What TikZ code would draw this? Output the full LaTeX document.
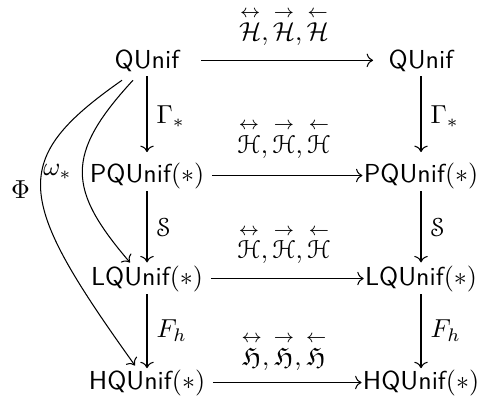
\documentclass[tikz,border=0pt]{standalone}
\usepackage{amsmath,amssymb}
\usepackage[mathscr]{eucal}
\usetikzlibrary{cd}
\newcommand{\hlr}[1]{\overset{\leftrightarrow}{#1}}
\newcommand{\hr}[1]{\overset{\rightarrow}{#1}}
\newcommand{\hl}[1]{\overset{\leftarrow}{#1}}
\begin{document}
\begin{tikzpicture}[x=0.3846pt,y=-0.3846pt,
  obj/.style={inner sep=0pt,outer sep=0pt,font=\sffamily,anchor=base},
  map/.style={->,>={cm to},line width=0.4pt},
  lab/.style={inner sep=0pt}]
\useasboundingbox (0,0) rectangle (479,395);
% objects
\node[obj] (A1) at (147,68) {QUnif};
\node[obj] (B1) at (421,68) {QUnif};
\node[obj] (A2) at (147,182) {PQUnif$(\ast)$};
\node[obj] (B2) at (421,182) {PQUnif$(\ast)$};
\node[obj] (A3) at (147,285) {LQUnif$(\ast)$};
\node[obj] (B3) at (421,285) {LQUnif$(\ast)$};
\node[obj] (A4) at (147,389) {HQUnif$(\ast)$};
\node[obj] (B4) at (421,389) {HQUnif$(\ast)$};
% horizontal maps
\draw[map,shorten <=8.5pt,shorten >=6pt] (A1) -- (B1)
  node[midway,above=5.5pt,lab] {$\hlr{\mathcal{H}},\hr{\mathcal{H}},\hl{\mathcal{H}}$};
\draw[map,shorten <=3pt,shorten >=0.5pt] (A2) -- (B2)
  node[midway,above=6.5pt,lab] {$\hlr{\mathscr{H}},\hr{\mathscr{H}},\hl{\mathscr{H}}$};
\draw[map,shorten <=3pt,shorten >=0.5pt] (A3) -- (B3)
  node[midway,above=5.5pt,lab] {$\hlr{\mathscr{H}},\hr{\mathscr{H}},\hl{\mathscr{H}}$};
\draw[map,shorten <=3pt,shorten >=0.5pt] (A4) -- (B4)
  node[midway,above=4.5pt,lab] {$\hlr{\mathfrak{H}},\hr{\mathfrak{H}},\hl{\mathfrak{H}}$};
% vertical maps
\draw[map,shorten <=2pt,shorten >=4pt] (A1) -- (A2) node[midway,right=3.5pt,lab] {$\Gamma_*$};
\draw[map,shorten <=2pt,shorten >=4pt] (B1) -- (B2) node[midway,right=3.5pt,lab] {$\Gamma_*$};
\draw[map,shorten <=1pt,shorten >=1.2pt] (A2) -- (A3) node[midway,right=3.5pt,lab] {$\mathscr{S}$};
\draw[map,shorten <=1pt,shorten >=1.2pt] (B2) -- (B3) node[midway,right=3.5pt,lab] {$\mathscr{S}$};
\draw[map,shorten <=1pt,shorten >=0.5pt] (A3) -- (A4) node[midway,right=3.5pt,lab] {$F_h$};
\draw[map,shorten <=1pt,shorten >=0.5pt] (B3) -- (B4) node[midway,right=3.5pt,lab] {$F_h$};
% curved maps
\draw[map] ([shift={(-14,9)}]A1.south) .. controls (64,155) and (68,190) .. ([shift={(-17,-3)}]A3.north)
  node[midway,left=4pt,lab] {$\omega_*$};
\draw[map] ([shift={(-25,9)}]A1.south) .. controls (8,160) and (15,198) .. ([shift={(-12,-4)}]A4.north)
  node[midway,left=4pt,lab] {$\Phi$};
\end{tikzpicture}
\end{document}
